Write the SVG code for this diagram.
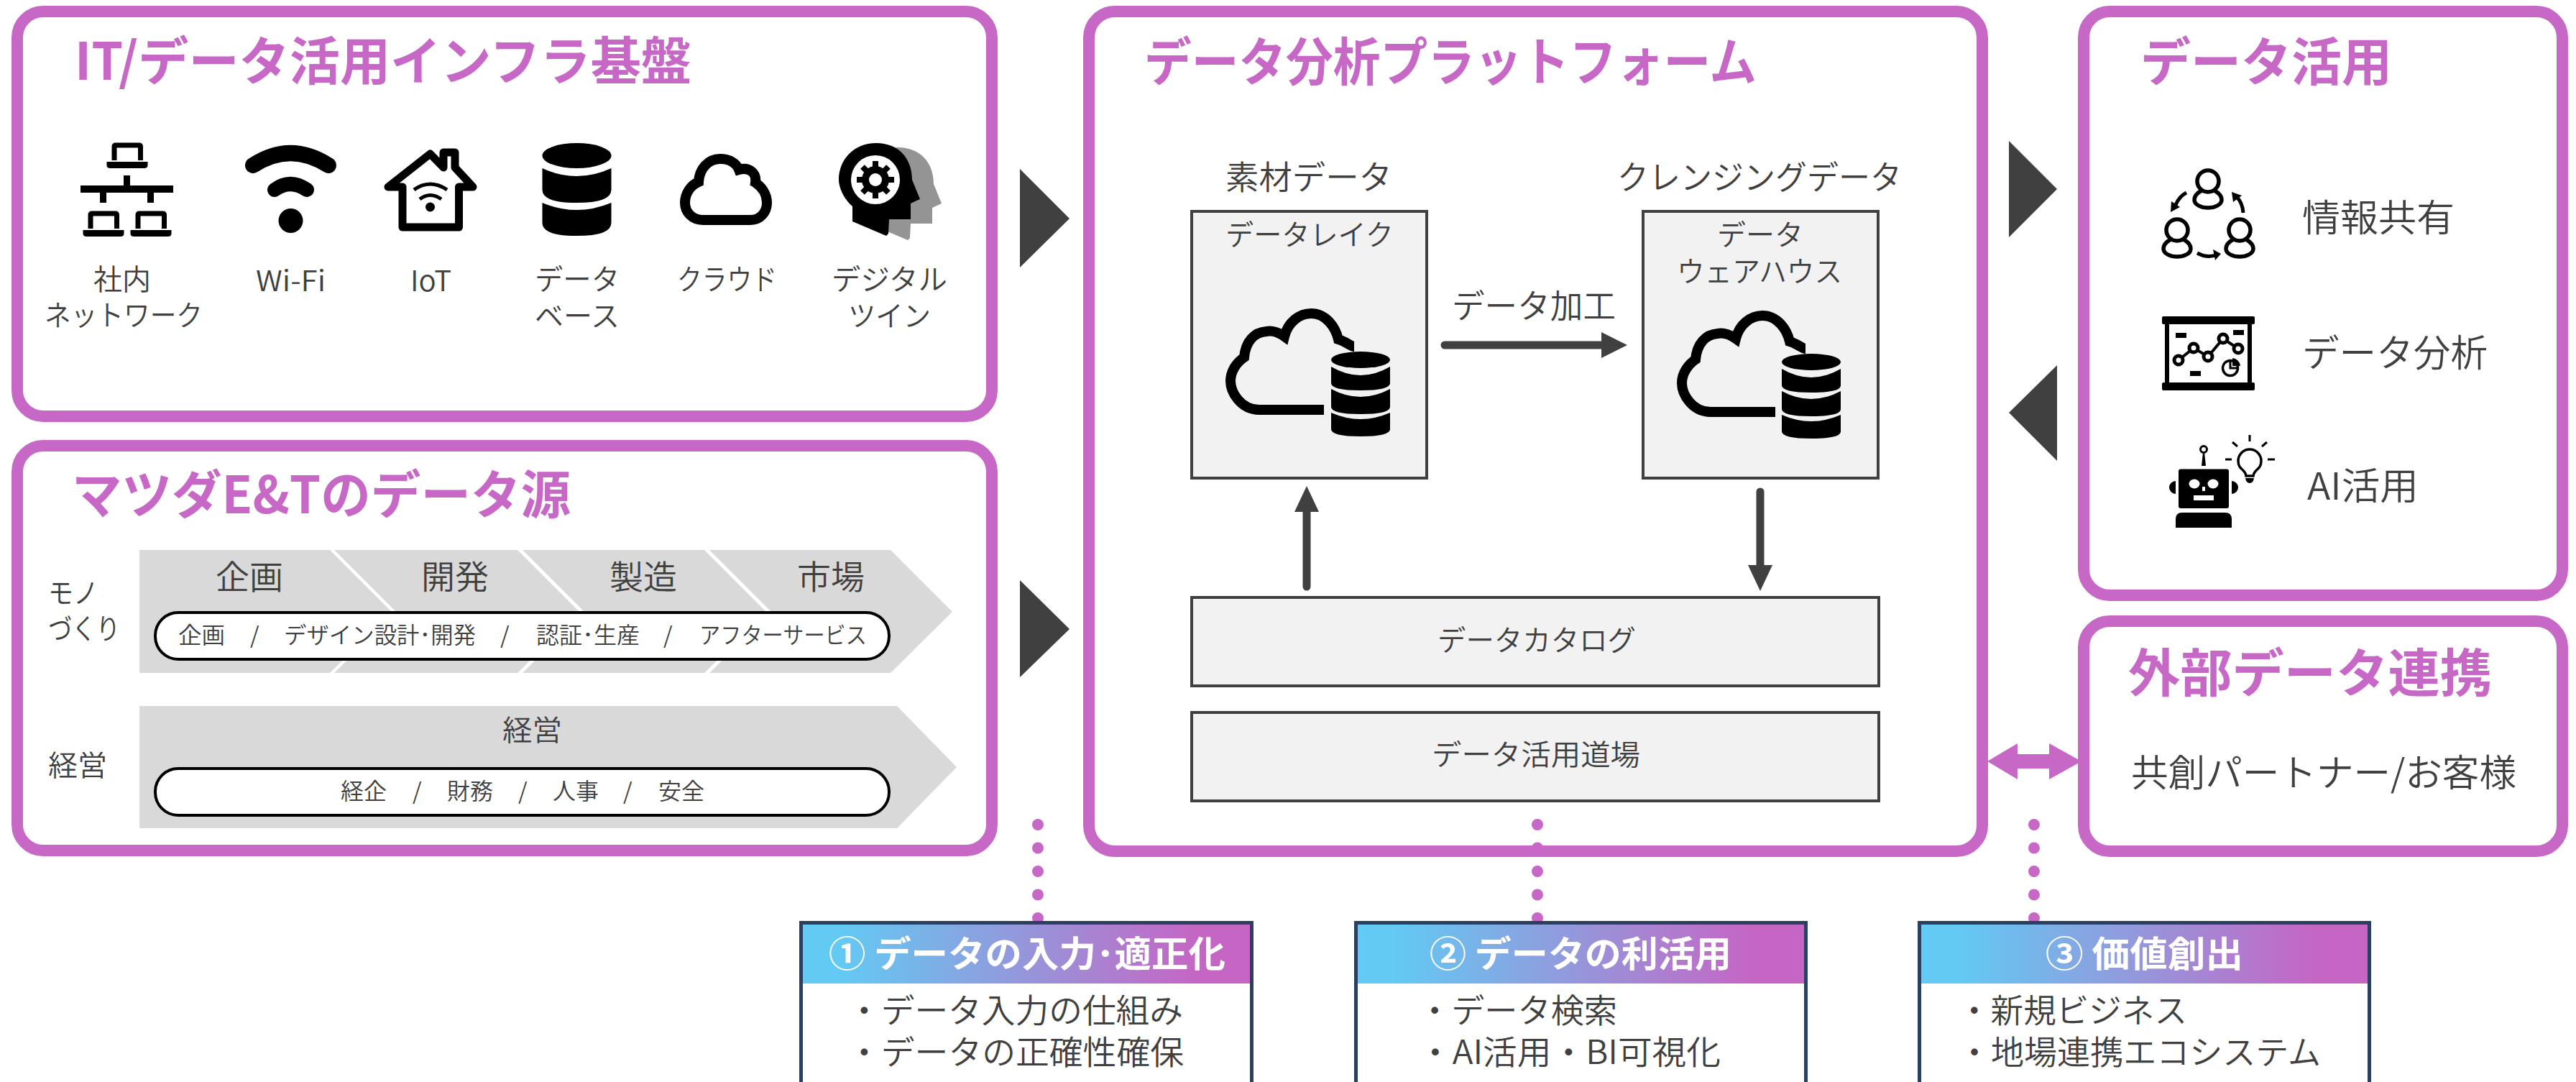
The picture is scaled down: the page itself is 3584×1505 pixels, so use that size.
<svg xmlns="http://www.w3.org/2000/svg" width="3584" height="1505" viewBox="0 0 3584 1505">
<style>
text{font-family:"Noto Sans CJK JP","Noto Sans",sans-serif;fill:#404040;font-weight:350}
.panel{fill:#fff;stroke:#C767C6;stroke-width:16}
.title{fill:#C767C6;font-size:72px;font-weight:700}
.s40{font-size:40px}.s46{font-size:46px}.s32{font-size:32px}.s52{font-size:52px}
.hd{fill:#fff;font-size:50px;font-weight:700}
.gbox{fill:#F2F2F2;stroke:#404040;stroke-width:4}
.pill{fill:#fff;stroke:#000;stroke-width:4}
.chev{fill:#D9D9D9}
.cbox{fill:#fff;stroke:#2B405E;stroke-width:5}
.dots{fill:none;stroke:#C767C6;stroke-width:16;stroke-linecap:round;stroke-dasharray:0 32.5}
.tri{fill:#404040}
.k{fill:#000}
.ko{fill:none;stroke:#000}
.w{fill:#fff}
</style>
<defs>
<linearGradient id="hg" x1="0" x2="1" y1="0" y2="0"><stop offset="0.08" stop-color="#62CAF3"/><stop offset="0.88" stop-color="#C566C4"/></linearGradient>
<g id="laptop"><path class="ko" stroke-width="7" d="M3.5,24V5q0,-2 2,-2H38q2,0 2,2V24"/><path class="k" d="M-7,26H50V31q0,4 -5,4H-2q-5,0 -5,-4Z"/></g>
<g id="smalldb"><ellipse class="k" cx="41" cy="11.500" rx="41" ry="11.500"/><path class="k" d="M0,21Q41,45 82,21V44Q82,54 41,54Q0,54 0,44Z"/><path class="k" d="M0,52Q41,74 82,52V77Q82,87 41,87Q0,87 0,77Z"/><path class="k" d="M0,85Q41,103 82,85V108Q82,118 41,118Q0,118 0,108Z"/></g>
<path id="lakecloud" class="ko" stroke-width="14" d="M1842,570H1752C1726,570 1712,545 1712,530C1712,515 1722,503 1731,497C1733,475 1745,462 1762,461C1770,459 1780,463 1787,468C1792,448 1808,436 1824,436C1845,436 1858,455 1862,472C1872,475 1880,482 1884,482"/>
<path id="head" d="M1186,308L1233,328L1236,325L1237,305H1267V283L1280,277L1269,250C1269,220 1250,199 1219,199C1188,199 1167,222 1167,250C1167,262 1175,278 1186,287Z"/>
<g id="person"><circle class="ko" stroke-width="5.500" cx="0" cy="0" r="15"/><path class="ko" stroke-width="5.500" d="M-9,13C-16,17 -19,21 -19,26C-19,33 -9,37 0,37C9,37 19,33 19,26C19,21 16,17 9,13"/></g>
</defs>

<g id="connectors">
<polygon class="tri" points="1419,235 1488,304 1419,372"/>
<polygon class="tri" points="1419,807 1488,875 1419,942"/>
<polygon class="tri" points="2795,196 2862,263 2795,330"/>
<polygon class="tri" points="2862,508 2795,574 2862,641"/>
</g>

<g id="panel-infra"><rect class="panel" x="24" y="16" width="1356" height="563" rx="36"/>
<text class="title" x="104" y="111" textLength="858" lengthAdjust="spacingAndGlyphs">IT/データ活用インフラ基盤</text></g>
<g id="panel-source"><rect class="panel" x="24" y="620" width="1356" height="563" rx="36"/>
<text class="title" x="100" y="714" textLength="694" lengthAdjust="spacingAndGlyphs">マツダE&amp;Tのデータ源</text></g>
<g id="panel-platform"><rect class="panel" x="1515" y="16" width="1243" height="1168" rx="36"/>
<text class="title" x="1592" y="112" textLength="852" lengthAdjust="spacingAndGlyphs">データ分析プラットフォーム</text></g>
<g id="panel-use"><rect class="panel" x="2899" y="16" width="666" height="812" rx="36"/>
<text class="title" x="2978" y="112" textLength="350" lengthAdjust="spacingAndGlyphs">データ活用</text></g>
<g id="panel-external"><rect class="panel" x="2899" y="864" width="666" height="320" rx="36"/>
<text class="title" x="2961" y="962" textLength="506" lengthAdjust="spacingAndGlyphs">外部データ連携</text>
<text class="s52" x="2965" y="1094" textLength="536" lengthAdjust="spacingAndGlyphs">共創パートナー/お客様</text></g>

<g id="icon-network">
<use href="#laptop" x="155.500" y="199"/><use href="#laptop" x="122.500" y="294"/><use href="#laptop" x="188.500" y="294"/>
<path class="k" d="M172,244h9v14h60v10h-27v14h-9v-14h-57v14h-9v-14h-27v-10h60Z"/>
<text class="s40" x="130" y="403" textLength="80" lengthAdjust="spacingAndGlyphs">社内</text>
<text class="s40" x="62" y="453" textLength="220" lengthAdjust="spacingAndGlyphs">ネットワーク</text>
</g>
<g id="icon-wifi">
<path class="ko" stroke-width="22" stroke-linecap="round" d="M352,230Q404,196 457,230"/>
<path class="ko" stroke-width="20" stroke-linecap="round" d="M382,264Q404,248 427,264"/>
<circle class="k" cx="404.500" cy="307" r="17"/>
<text class="s40" x="356" y="405" textLength="97" lengthAdjust="spacingAndGlyphs">Wi-Fi</text>
</g>
<g id="icon-iot">
<path class="ko" stroke-width="11" stroke-linejoin="round" d="M560,260V316H638.500V260H658L633,233V212H617V233L598.500,214L540,260Z"/>
<path class="ko" stroke-width="5" d="M576,264Q598.500,248 622,264M584,277Q598.500,266 614,277"/>
<circle class="k" cx="598.500" cy="288" r="6.500"/>
<text class="s40" x="571" y="405" textLength="57" lengthAdjust="spacingAndGlyphs">IoT</text>
</g>
<g id="icon-database">
<ellipse class="k" cx="802.500" cy="216.500" rx="48" ry="17.500"/>
<path class="k" d="M754.500,234Q802.500,256 850.500,234V264Q850.500,282 802.500,282Q754.500,282 754.500,264Z"/>
<path class="k" d="M754.500,282Q802.500,302 850.500,282V310Q850.500,328 802.500,328Q754.500,328 754.500,310Z"/>
<text class="s40" x="744" y="403" textLength="118" lengthAdjust="spacingAndGlyphs">データ</text>
<text class="s40" x="744" y="454" textLength="118" lengthAdjust="spacingAndGlyphs">ベース</text>
</g>
<g id="icon-cloud">
<path class="ko" stroke-width="14" d="M978,306H1044C1058,306 1067,295 1067,282C1067,270 1060,260 1051,254C1053,240 1042,232 1028,236C1024,226 1014,221 1002,221C985,221 973,235 972,253C960,258 953,270 953,282C953,295 963,306 978,306Z"/>
<text class="s40" x="942" y="403" textLength="139" lengthAdjust="spacingAndGlyphs">クラウド</text>
</g>
<g id="icon-twin">
<use href="#head" x="30" y="6" fill="#949494"/>
<use href="#head" fill="#000"/>
<circle class="w" cx="1218" cy="250" r="34"/>
<g stroke="#000" stroke-width="8"><path d="M1218,224V276M1192,250H1244M1200,232L1236,268M1236,232L1200,268"/></g>
<circle class="k" cx="1218" cy="250" r="19"/><circle class="w" cx="1218" cy="250" r="9"/>
<text class="s40" x="1157" y="403" textLength="161" lengthAdjust="spacingAndGlyphs">デジタル</text>
<text class="s40" x="1180" y="454" textLength="115" lengthAdjust="spacingAndGlyphs">ツイン</text>
</g>

<g id="flow-mono">
<polygon class="chev" points="194,765 459,765 545,851 459,936 194,936"/>
<polygon class="chev" points="465,765 720,765 806,851 720,936 465,936 551,851"/>
<polygon class="chev" points="727,765 980,765 1066,851 980,936 727,936 813,851"/>
<polygon class="chev" points="987,765 1239,765 1325,851 1239,936 987,936 1073,851"/>
<text class="s46" x="300" y="819" textLength="94" lengthAdjust="spacingAndGlyphs">企画</text>
<text class="s46" x="586" y="819" textLength="94" lengthAdjust="spacingAndGlyphs">開発</text>
<text class="s46" x="848" y="819" textLength="94" lengthAdjust="spacingAndGlyphs">製造</text>
<text class="s46" x="1109" y="819" textLength="94" lengthAdjust="spacingAndGlyphs">市場</text>
<rect class="pill" x="216" y="852" width="1021" height="65" rx="32"/>
<text class="s32" x="248" y="895" textLength="65" lengthAdjust="spacingAndGlyphs">企画</text>
<text class="s32" x="348" y="895" textLength="15">/</text>
<text class="s32" x="395" y="895" textLength="267" lengthAdjust="spacingAndGlyphs">デザイン設計･開発</text>
<text class="s32" x="696" y="895" textLength="15">/</text>
<text class="s32" x="746" y="895" textLength="144" lengthAdjust="spacingAndGlyphs">認証･生産</text>
<text class="s32" x="923" y="895" textLength="15">/</text>
<text class="s32" x="973" y="895" textLength="233" lengthAdjust="spacingAndGlyphs">アフターサービス</text>
<text class="s40" x="67" y="839" textLength="70" lengthAdjust="spacingAndGlyphs">モノ</text>
<text class="s40" x="67" y="889" textLength="100" lengthAdjust="spacingAndGlyphs">づくり</text>
</g>
<g id="flow-mgmt">
<polygon class="chev" points="194,982 1248,982 1331,1067 1248,1152 194,1152"/>
<text class="s40" x="699" y="1030" textLength="83" lengthAdjust="spacingAndGlyphs">経営</text>
<rect class="pill" x="216" y="1069" width="1021" height="65" rx="32"/>
<text class="s32" x="474" y="1112" textLength="64" lengthAdjust="spacingAndGlyphs">経企</text>
<text class="s32" x="574" y="1112" textLength="14">/</text>
<text class="s32" x="622" y="1112" textLength="64" lengthAdjust="spacingAndGlyphs">財務</text>
<text class="s32" x="721" y="1112" textLength="14">/</text>
<text class="s32" x="769" y="1112" textLength="64" lengthAdjust="spacingAndGlyphs">人事</text>
<text class="s32" x="867" y="1112" textLength="14">/</text>
<text class="s32" x="916" y="1112" textLength="64" lengthAdjust="spacingAndGlyphs">安全</text>
<text class="s40" x="67" y="1079" textLength="82" lengthAdjust="spacingAndGlyphs">経営</text>
</g>

<g id="datalake">
<text class="s46" x="1705" y="263" textLength="232" lengthAdjust="spacingAndGlyphs">素材データ</text>
<rect class="gbox" x="1658" y="294" width="327" height="371"/>
<text class="s40" x="1705" y="341" textLength="234" lengthAdjust="spacingAndGlyphs">データレイク</text>
<use href="#lakecloud"/><use href="#smalldb" x="1852" y="489"/>
</g>
<g id="warehouse">
<text class="s46" x="2250" y="263" textLength="396" lengthAdjust="spacingAndGlyphs">クレンジングデータ</text>
<rect class="gbox" x="2286" y="294" width="327" height="371"/>
<text class="s40" x="2389" y="341" textLength="120" lengthAdjust="spacingAndGlyphs">データ</text>
<text class="s40" x="2333" y="392" textLength="230" lengthAdjust="spacingAndGlyphs">ウェアハウス</text>
<use href="#lakecloud" x="628" y="3"/><use href="#smalldb" x="2479" y="492"/>
</g>
<g id="catalog"><rect class="gbox" x="1658" y="831" width="956" height="123"/>
<text class="s40" x="2000" y="905" textLength="276" lengthAdjust="spacingAndGlyphs">データカタログ</text></g>
<g id="dojo"><rect class="gbox" x="1658" y="991" width="956" height="123"/>
<text class="s40" x="1992" y="1064" textLength="290" lengthAdjust="spacingAndGlyphs">データ活用道場</text></g>

<g id="platform-connectors">
<path fill="#404040" d="M2010,474.500H2228V462L2264,480L2228,498V485.500H2010A5.500,5.500 0 0 1 2010,474.500Z"/>
<path fill="#404040" d="M1818,676L1835,712H1823.500V816A5.500,5.500 0 0 1 1812.500,816V712H1801Z"/>
<path fill="#404040" d="M2449,822L2432,786H2443.500V684A5.500,5.500 0 0 1 2454.500,684V786H2466Z"/>
<polygon fill="#C767C6" points="2765,1059 2807,1034 2807,1049 2851,1049 2851,1034 2896,1059 2851,1084 2851,1069 2807,1069 2807,1084"/>
<path class="dots" d="M1444,1147V1285M2139,1147V1285M2830,1147V1285"/>
</g>
<text class="s46" x="2020" y="442" textLength="228" lengthAdjust="spacingAndGlyphs">データ加工</text>

<g id="use-share">
<use href="#person" x="3072" y="252"/><use href="#person" x="3029" y="320"/><use href="#person" x="3116" y="320"/>
<path class="ko" stroke-width="5" d="M3042,268Q3032,273 3027,285M3121,296Q3120,282 3112,274M3057,352Q3072,360 3085,354"/>
<path class="k" d="M3020,295L3021,280L3033,288ZM3105,267L3119,272L3107,281ZM3090,353L3079,347L3082,362Z"/>
<text class="s52" x="3203" y="322" textLength="212" lengthAdjust="spacingAndGlyphs">情報共有</text>
</g>
<g id="use-analysis">
<rect class="k" x="3008" y="440" width="129" height="11" rx="2"/><rect class="k" x="3008" y="532" width="129" height="11" rx="2"/>
<path class="k" d="M3012,445h6v92h-6ZM3127,445h6v92h-6Z"/>
<rect class="k" x="3027" y="463" width="15" height="7"/><rect class="k" x="3107" y="459" width="15" height="7"/><rect class="k" x="3047" y="516" width="15" height="7"/>
<path class="ko" stroke-width="4" d="M3031,501L3052,484L3072,496L3093,471L3114,485"/>
<g fill="#fff" stroke="#000" stroke-width="5"><circle cx="3031" cy="501" r="6"/><circle cx="3052" cy="484" r="6"/><circle cx="3072" cy="496" r="6"/><circle cx="3093" cy="471" r="6"/><circle cx="3114" cy="485" r="6"/></g>
<circle class="ko" stroke-width="3.500" cx="3103" cy="512" r="10.500"/><path class="k" d="M3106,498A12,12 0 0 1 3117,509H3106Z"/><path class="ko" stroke-width="3" d="M3103,501V512H3114"/>
<text class="s52" x="3203" y="510" textLength="258" lengthAdjust="spacingAndGlyphs">データ分析</text>
</g>
<g id="use-ai">
<rect class="k" x="3031" y="652.500" width="70" height="54.500" rx="3"/>
<ellipse class="w" cx="3053" cy="673" rx="7.500" ry="6.500"/><ellipse class="w" cx="3079" cy="673" rx="7.500" ry="6.500"/>
<rect class="w" x="3064" y="677" width="4" height="6"/><rect class="w" x="3052" y="689" width="28" height="7"/>
<path class="k" d="M3027,669V687A9,9 0 0 1 3027,669ZM3105,669A9,9 0 0 1 3105,687Z"/>
<circle class="ko" stroke-width="3" cx="3066" cy="625" r="4.500"/><path class="k" d="M3065,629h2l2,19h-6Z"/>
<path class="k" d="M3027,734V722Q3027,713 3036,713H3096Q3105,713 3105,722V734Z"/>
<path class="ko" stroke-width="3.500" d="M3125,662C3124,652 3114,654 3114,641A16,16 0 1 1 3146,641C3146,654 3136,652 3135,662Z"/>
<path class="k" d="M3124,665H3136Q3135,672 3130,672Q3125,672 3124,665Z"/>
<path class="ko" stroke-width="3" d="M3130,605V614M3106,615L3113,621M3154,615L3147,621M3096,639H3105M3155,639H3165"/>
<text class="s52" x="3210" y="695" textLength="155" lengthAdjust="spacingAndGlyphs">AI活用</text>
</g>

<g id="issue-1"><rect class="cbox" x="1114.500" y="1283.500" width="627" height="260"/>
<rect fill="url(#hg)" x="1117" y="1286" width="622" height="82"/>
<text class="hd" x="1153" y="1345" textLength="552" lengthAdjust="spacingAndGlyphs">① データの入力･適正化</text>
<text class="s46" x="1179" y="1422" textLength="467" lengthAdjust="spacingAndGlyphs">・データ入力の仕組み</text>
<text class="s46" x="1179" y="1480" textLength="468" lengthAdjust="spacingAndGlyphs">・データの正確性確保</text></g>
<g id="issue-2"><rect class="cbox" x="1886.500" y="1283.500" width="626" height="260"/>
<rect fill="url(#hg)" x="1889" y="1286" width="621" height="82"/>
<text class="hd" x="1989" y="1345" textLength="420" lengthAdjust="spacingAndGlyphs">② データの利活用</text>
<text class="s46" x="1973" y="1422" textLength="277" lengthAdjust="spacingAndGlyphs">・データ検索</text>
<text class="s46" x="1973" y="1480" textLength="421" lengthAdjust="spacingAndGlyphs">・AI活用・BI可視化</text></g>
<g id="issue-3"><rect class="cbox" x="2670.500" y="1283.500" width="626" height="260"/>
<rect fill="url(#hg)" x="2673" y="1286" width="621" height="82"/>
<text class="hd" x="2846" y="1345" textLength="275" lengthAdjust="spacingAndGlyphs">③ 価値創出</text>
<text class="s46" x="2724" y="1422" textLength="319" lengthAdjust="spacingAndGlyphs">・新規ビジネス</text>
<text class="s46" x="2724" y="1480" textLength="505" lengthAdjust="spacingAndGlyphs">・地場連携エコシステム</text></g>
</svg>
